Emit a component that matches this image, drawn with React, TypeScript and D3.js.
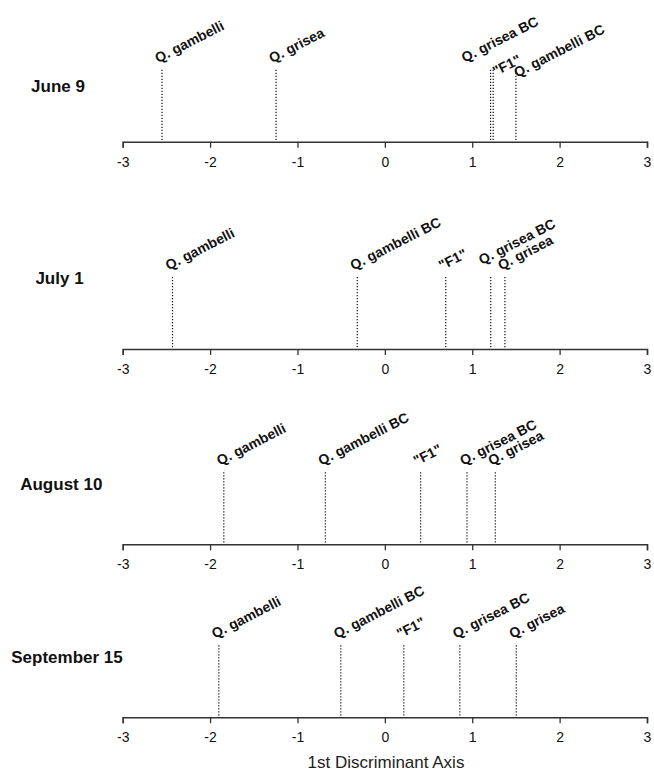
import React, { useEffect, useRef } from "react";
import * as d3 from "d3";

// ---- data ----
const dates = ["June 9", "July 1", "August 10", "September 15"];
const groupNames = ["Q. gambelli", "Q. gambelli BC", "\"F1\"", "Q. grisea BC", "Q. grisea"];
const june9Values = [-2.55, 1.5, 1.24, 1.21, -1.245];
const july1Values = [-2.43, -0.316, 0.697, 1.212, 1.374];
const august10Values = [-1.843, -0.681, 0.409, 0.94, 1.264];
const september15Values = [-1.9, -0.504, 0.217, 0.858, 1.504];
const panelValues = [june9Values, july1Values, august10Values, september15Values];
const axisTicks = [-3, -2, -1, 0, 1, 2, 3];
const axisTitle = "1st Discriminant Axis";

// ---- layout ----
const W = 654;
const H = 777;
const axisY = [141.7, 349, 544.3, 717.3];
const rowLabelX = [58, 59.5, 61.3, 67];
const rowLabelOffset = [50, 65, 54, 54.6];
const lineHeight = 72;
const labelAngle = -27;
const defaultLabelOffset: [number, number] = [-4, -6.5];
// per-panel, per-group label offsets (manual placements seen in the figure)
const labelOffsets: ([number, number] | null)[][] = [
  [null, [1, 8], [2.5, 6.5], [-26, -7], null],
  [null, null, null, [-9, -12], null],
  [null, null, null, null, null],
  [null, null, null, null, null],
];
const FONT = "'Liberation Sans', Arial, Helvetica, sans-serif";

function Axis({ y, scale }: { y: number; scale: d3.ScaleLinear<number, number> }) {
  const ref = useRef<SVGGElement>(null);
  useEffect(() => {
    if (!ref.current) return;
    const g = d3.select(ref.current);
    g.selectAll("*").remove();
    g.call(
      d3
        .axisBottom(scale)
        .tickValues(axisTicks)
        .tickFormat((d) => String(d))
        .tickSize(6)
        .tickSizeOuter(6)
        .tickPadding(9)
    );
    g.select(".domain").attr("stroke", "#333").attr("stroke-width", 1.5);
    g.selectAll(".tick line").attr("stroke", "#333").attr("stroke-width", 1.3);
    g.selectAll(".tick text")
      .attr("font-family", FONT)
      .attr("font-size", 14)
      .attr("fill", "#111");
  }, [scale]);
  return <g ref={ref} transform={`translate(0,${y})`} />;
}

export default function App() {
  const x = d3.scaleLinear().domain([-3, 3]).range([122.7, 647]);
  return (
    <svg
      width={W}
      height={H}
      style={{ position: "absolute", left: 0, top: 0, background: "#fff" }}
      fontFamily={FONT}
    >
      <rect width={W} height={H} fill="#fff" />
      {dates.map((date, p) => {
        const ay = axisY[p];
        const vals = panelValues[p];
        return (
          <g key={date}>
            <text
              x={rowLabelX[p]}
              y={ay - rowLabelOffset[p]}
              textAnchor="middle"
              fontWeight="bold"
              fontSize={17}
              fill="#111"
            >
              {date}
            </text>
            {vals.map((v, i) => {
              const lx = x(v);
              const top = ay - lineHeight;
              const off = labelOffsets[p][i] || defaultLabelOffset;
              return (
                <g key={groupNames[i]}>
                  <line
                    x1={lx}
                    x2={lx}
                    y1={top}
                    y2={ay}
                    stroke="#111"
                    strokeWidth={1.2}
                    strokeDasharray="1.2,1.8"
                  />
                  <text
                    transform={`translate(${lx + off[0]},${top + off[1]}) rotate(${labelAngle})`}
                    fontWeight="bold"
                    fontSize={14}
                    fill="#111"
                  >
                    {groupNames[i]}
                  </text>
                </g>
              );
            })}
            <Axis y={ay} scale={x} />
          </g>
        );
      })}
      <text x={386} y={768} textAnchor="middle" fontSize={17} fill="#222">
        {axisTitle}
      </text>
    </svg>
  );
}
